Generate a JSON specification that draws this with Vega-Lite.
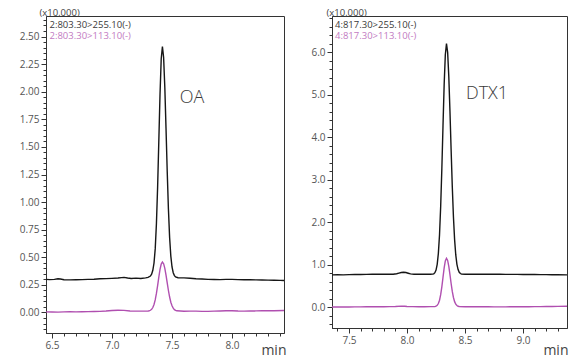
{
  "$schema": "https://vega.github.io/schema/vega-lite/v6.json",
  "padding": {"left": 18, "top": 7, "right": 0, "bottom": 0},
  "background": "white",
  "bounds": "flush",
  "spacing": 48,
  "config": {
    "font": "Open Sans",
    "view": {"stroke": "#333333", "strokeWidth": 1},
    "axis": {
      "domainColor": "#333333",
      "tickColor": "#333333",
      "labelColor": "#555555",
      "labelFontSize": 10,
      "labelPadding": 2,
      "labelOverlap": false,
      "labelFlush": false,
      "grid": false,
      "titleFontWeight": "normal",
      "titleColor": "#444444"
    }
  },
  "datasets": {
    "oa": [
      {"m":"255.10","t":6.45,"v":0.300},{"m":"255.10","t":6.48,"v":0.298},{"m":"255.10","t":6.52,"v":0.300},{"m":"255.10","t":6.55,"v":0.306},{"m":"255.10","t":6.57,"v":0.303},{"m":"255.10","t":6.60,"v":0.296},{"m":"255.10","t":6.65,"v":0.295},{"m":"255.10","t":6.70,"v":0.297},{"m":"255.10","t":6.75,"v":0.298},{"m":"255.10","t":6.80,"v":0.300},{"m":"255.10","t":6.85,"v":0.301},{"m":"255.10","t":6.90,"v":0.306},{"m":"255.10","t":6.95,"v":0.307},{"m":"255.10","t":7.00,"v":0.309},{"m":"255.10","t":7.05,"v":0.312},{"m":"255.10","t":7.08,"v":0.316},{"m":"255.10","t":7.10,"v":0.318},{"m":"255.10","t":7.13,"v":0.312},{"m":"255.10","t":7.16,"v":0.308},{"m":"255.10","t":7.20,"v":0.311},{"m":"255.10","t":7.24,"v":0.308},{"m":"255.10","t":7.28,"v":0.313},{"m":"255.10","t":7.30,"v":0.318},{"m":"255.10","t":7.32,"v":0.330},{"m":"255.10","t":7.33,"v":0.347},{"m":"255.10","t":7.34,"v":0.382},{"m":"255.10","t":7.35,"v":0.448},{"m":"255.10","t":7.36,"v":0.576},{"m":"255.10","t":7.37,"v":0.803},{"m":"255.10","t":7.38,"v":1.137},{"m":"255.10","t":7.39,"v":1.554},{"m":"255.10","t":7.40,"v":1.977},{"m":"255.10","t":7.41,"v":2.299},{"m":"255.10","t":7.42,"v":2.41},{"m":"255.10","t":7.43,"v":2.31},{"m":"255.10","t":7.44,"v":2.04},{"m":"255.10","t":7.45,"v":1.666},{"m":"255.10","t":7.46,"v":1.277},{"m":"255.10","t":7.47,"v":0.937},{"m":"255.10","t":7.48,"v":0.680},{"m":"255.10","t":7.49,"v":0.511},{"m":"255.10","t":7.50,"v":0.412},{"m":"255.10","t":7.51,"v":0.360},{"m":"255.10","t":7.52,"v":0.334},{"m":"255.10","t":7.53,"v":0.322},{"m":"255.10","t":7.55,"v":0.315},{"m":"255.10","t":7.60,"v":0.313},{"m":"255.10","t":7.65,"v":0.310},{"m":"255.10","t":7.70,"v":0.305},{"m":"255.10","t":7.75,"v":0.303},{"m":"255.10","t":7.80,"v":0.300},{"m":"255.10","t":7.85,"v":0.299},{"m":"255.10","t":7.90,"v":0.298},{"m":"255.10","t":7.95,"v":0.300},{"m":"255.10","t":8.00,"v":0.300},{"m":"255.10","t":8.05,"v":0.298},{"m":"255.10","t":8.10,"v":0.297},{"m":"255.10","t":8.15,"v":0.296},{"m":"255.10","t":8.20,"v":0.295},{"m":"255.10","t":8.25,"v":0.294},{"m":"255.10","t":8.30,"v":0.293},{"m":"255.10","t":8.35,"v":0.292},{"m":"255.10","t":8.40,"v":0.291},{"m":"255.10","t":8.433,"v":0.290},
      {"m":"113.10","t":6.45,"v":0.005},{"m":"113.10","t":6.50,"v":0.004},{"m":"113.10","t":6.55,"v":0.003},{"m":"113.10","t":6.60,"v":0.005},{"m":"113.10","t":6.65,"v":0.006},{"m":"113.10","t":6.70,"v":0.005},{"m":"113.10","t":6.75,"v":0.007},{"m":"113.10","t":6.80,"v":0.008},{"m":"113.10","t":6.85,"v":0.009},{"m":"113.10","t":6.90,"v":0.010},{"m":"113.10","t":6.95,"v":0.013},{"m":"113.10","t":7.00,"v":0.018},{"m":"113.10","t":7.05,"v":0.020},{"m":"113.10","t":7.10,"v":0.019},{"m":"113.10","t":7.15,"v":0.013},{"m":"113.10","t":7.20,"v":0.012},{"m":"113.10","t":7.25,"v":0.012},{"m":"113.10","t":7.30,"v":0.013},{"m":"113.10","t":7.31,"v":0.015},{"m":"113.10","t":7.32,"v":0.020},{"m":"113.10","t":7.33,"v":0.028},{"m":"113.10","t":7.34,"v":0.045},{"m":"113.10","t":7.35,"v":0.072},{"m":"113.10","t":7.36,"v":0.114},{"m":"113.10","t":7.37,"v":0.173},{"m":"113.10","t":7.38,"v":0.243},{"m":"113.10","t":7.39,"v":0.320},{"m":"113.10","t":7.40,"v":0.390},{"m":"113.10","t":7.41,"v":0.439},{"m":"113.10","t":7.42,"v":0.457},{"m":"113.10","t":7.43,"v":0.442},{"m":"113.10","t":7.44,"v":0.400},{"m":"113.10","t":7.45,"v":0.338},{"m":"113.10","t":7.46,"v":0.268},{"m":"113.10","t":7.47,"v":0.199},{"m":"113.10","t":7.48,"v":0.140},{"m":"113.10","t":7.49,"v":0.093},{"m":"113.10","t":7.50,"v":0.061},{"m":"113.10","t":7.51,"v":0.039},{"m":"113.10","t":7.52,"v":0.026},{"m":"113.10","t":7.53,"v":0.019},{"m":"113.10","t":7.54,"v":0.015},{"m":"113.10","t":7.60,"v":0.011},{"m":"113.10","t":7.65,"v":0.012},{"m":"113.10","t":7.70,"v":0.012},{"m":"113.10","t":7.75,"v":0.010},{"m":"113.10","t":7.80,"v":0.010},{"m":"113.10","t":7.85,"v":0.012},{"m":"113.10","t":7.90,"v":0.013},{"m":"113.10","t":7.95,"v":0.015},{"m":"113.10","t":8.00,"v":0.016},{"m":"113.10","t":8.05,"v":0.013},{"m":"113.10","t":8.10,"v":0.012},{"m":"113.10","t":8.15,"v":0.013},{"m":"113.10","t":8.20,"v":0.014},{"m":"113.10","t":8.25,"v":0.015},{"m":"113.10","t":8.30,"v":0.016},{"m":"113.10","t":8.35,"v":0.016},{"m":"113.10","t":8.433,"v":0.018}
    ],
    "dtx": [
      {"m":"255.10","t":7.353,"v":0.760},{"m":"255.10","t":7.40,"v":0.762},{"m":"255.10","t":7.45,"v":0.760},{"m":"255.10","t":7.50,"v":0.765},{"m":"255.10","t":7.55,"v":0.768},{"m":"255.10","t":7.60,"v":0.770},{"m":"255.10","t":7.65,"v":0.772},{"m":"255.10","t":7.70,"v":0.775},{"m":"255.10","t":7.75,"v":0.776},{"m":"255.10","t":7.80,"v":0.775},{"m":"255.10","t":7.85,"v":0.774},{"m":"255.10","t":7.88,"v":0.776},{"m":"255.10","t":7.91,"v":0.786},{"m":"255.10","t":7.93,"v":0.800},{"m":"255.10","t":7.95,"v":0.815},{"m":"255.10","t":7.97,"v":0.822},{"m":"255.10","t":7.99,"v":0.815},{"m":"255.10","t":8.01,"v":0.798},{"m":"255.10","t":8.03,"v":0.782},{"m":"255.10","t":8.06,"v":0.776},{"m":"255.10","t":8.10,"v":0.775},{"m":"255.10","t":8.15,"v":0.774},{"m":"255.10","t":8.20,"v":0.775},{"m":"255.10","t":8.22,"v":0.777},{"m":"255.10","t":8.23,"v":0.785},{"m":"255.10","t":8.24,"v":0.811},{"m":"255.10","t":8.25,"v":0.874},{"m":"255.10","t":8.26,"v":1.008},{"m":"255.10","t":8.27,"v":1.266},{"m":"255.10","t":8.28,"v":1.704},{"m":"255.10","t":8.29,"v":2.372},{"m":"255.10","t":8.30,"v":3.257},{"m":"255.10","t":8.31,"v":4.267},{"m":"255.10","t":8.32,"v":5.239},{"m":"255.10","t":8.33,"v":5.939},{"m":"255.10","t":8.34,"v":6.20},{"m":"255.10","t":8.35,"v":5.994},{"m":"255.10","t":8.36,"v":5.423},{"m":"255.10","t":8.37,"v":4.609},{"m":"255.10","t":8.38,"v":3.697},{"m":"255.10","t":8.39,"v":2.839},{"m":"255.10","t":8.40,"v":2.122},{"m":"255.10","t":8.41,"v":1.590},{"m":"255.10","t":8.42,"v":1.229},{"m":"255.10","t":8.43,"v":1.008},{"m":"255.10","t":8.44,"v":0.885},{"m":"255.10","t":8.45,"v":0.821},{"m":"255.10","t":8.46,"v":0.791},{"m":"255.10","t":8.47,"v":0.778},{"m":"255.10","t":8.50,"v":0.775},{"m":"255.10","t":8.55,"v":0.775},{"m":"255.10","t":8.60,"v":0.776},{"m":"255.10","t":8.65,"v":0.775},{"m":"255.10","t":8.70,"v":0.774},{"m":"255.10","t":8.75,"v":0.775},{"m":"255.10","t":8.80,"v":0.774},{"m":"255.10","t":8.85,"v":0.772},{"m":"255.10","t":8.90,"v":0.772},{"m":"255.10","t":8.95,"v":0.771},{"m":"255.10","t":9.00,"v":0.770},{"m":"255.10","t":9.05,"v":0.768},{"m":"255.10","t":9.10,"v":0.767},{"m":"255.10","t":9.15,"v":0.766},{"m":"255.10","t":9.20,"v":0.765},{"m":"255.10","t":9.25,"v":0.764},{"m":"255.10","t":9.30,"v":0.762},{"m":"255.10","t":9.379,"v":0.760},
      {"m":"113.10","t":7.353,"v":0.005},{"m":"113.10","t":7.40,"v":0.004},{"m":"113.10","t":7.45,"v":0.005},{"m":"113.10","t":7.50,"v":0.005},{"m":"113.10","t":7.55,"v":0.006},{"m":"113.10","t":7.60,"v":0.008},{"m":"113.10","t":7.65,"v":0.009},{"m":"113.10","t":7.70,"v":0.010},{"m":"113.10","t":7.75,"v":0.010},{"m":"113.10","t":7.80,"v":0.010},{"m":"113.10","t":7.85,"v":0.012},{"m":"113.10","t":7.90,"v":0.016},{"m":"113.10","t":7.95,"v":0.024},{"m":"113.10","t":7.98,"v":0.022},{"m":"113.10","t":8.00,"v":0.016},{"m":"113.10","t":8.05,"v":0.012},{"m":"113.10","t":8.10,"v":0.010},{"m":"113.10","t":8.15,"v":0.011},{"m":"113.10","t":8.20,"v":0.012},{"m":"113.10","t":8.23,"v":0.013},{"m":"113.10","t":8.24,"v":0.014},{"m":"113.10","t":8.25,"v":0.023},{"m":"113.10","t":8.26,"v":0.043},{"m":"113.10","t":8.27,"v":0.085},{"m":"113.10","t":8.28,"v":0.164},{"m":"113.10","t":8.29,"v":0.294},{"m":"113.10","t":8.30,"v":0.479},{"m":"113.10","t":8.31,"v":0.702},{"m":"113.10","t":8.32,"v":0.923},{"m":"113.10","t":8.33,"v":1.088},{"m":"113.10","t":8.34,"v":1.15},{"m":"113.10","t":8.35,"v":1.099},{"m":"113.10","t":8.36,"v":0.958},{"m":"113.10","t":8.37,"v":0.764},{"m":"113.10","t":8.38,"v":0.557},{"m":"113.10","t":8.39,"v":0.371},{"m":"113.10","t":8.40,"v":0.228},{"m":"113.10","t":8.41,"v":0.130},{"m":"113.10","t":8.42,"v":0.070},{"m":"113.10","t":8.43,"v":0.038},{"m":"113.10","t":8.44,"v":0.022},{"m":"113.10","t":8.45,"v":0.015},{"m":"113.10","t":8.50,"v":0.011},{"m":"113.10","t":8.55,"v":0.010},{"m":"113.10","t":8.60,"v":0.010},{"m":"113.10","t":8.65,"v":0.009},{"m":"113.10","t":8.70,"v":0.009},{"m":"113.10","t":8.75,"v":0.008},{"m":"113.10","t":8.80,"v":0.008},{"m":"113.10","t":8.85,"v":0.008},{"m":"113.10","t":8.90,"v":0.009},{"m":"113.10","t":8.95,"v":0.010},{"m":"113.10","t":9.00,"v":0.010},{"m":"113.10","t":9.05,"v":0.011},{"m":"113.10","t":9.10,"v":0.012},{"m":"113.10","t":9.15,"v":0.014},{"m":"113.10","t":9.20,"v":0.015},{"m":"113.10","t":9.25,"v":0.017},{"m":"113.10","t":9.30,"v":0.018},{"m":"113.10","t":9.379,"v":0.020}
    ]
  },
  "hconcat": [
    {
      "width": 238,
      "height": 317,
      "layer": [
        {
          "data": {"name": "oa"},
          "mark": {"type": "line", "strokeWidth": 1.4, "clip": true},
          "encoding": {
            "x": {
              "field": "t", "type": "quantitative",
              "scale": {"domain": [6.45, 8.433], "nice": false, "zero": false},
              "axis": {
                "values": [6.5,6.6,6.7,6.8,6.9,7,7.1,7.2,7.3,7.4,7.5,7.6,7.7,7.8,7.9,8,8.1,8.2,8.3,8.4],
                "tickCount": 500,
                "labelExpr": "abs(datum.value*2 - round(datum.value*2)) < 0.001 ? format(datum.value, '.1f') : ''",
                "labelOverlap": false,
                "labelFlush": false,
                "tickSize": {"condition": {"test": "abs(datum.value*2 - round(datum.value*2)) < 0.001", "value": 5}, "value": 3},
                "title": "min",
                "titleFontSize": 14,
                "titleAlign": "right",
                "titleBaseline": "alphabetic",
                "titleX": 240,
                "titleY": 21
              }
            },
            "y": {
              "field": "v", "type": "quantitative",
              "scale": {"domain": [-0.186, 2.686], "nice": false, "zero": false},
              "axis": {
                "values": [-0.15,-0.1,-0.05,0,0.05,0.1,0.15,0.2,0.25,0.3,0.35,0.4,0.45,0.5,0.55,0.6,0.65,0.7,0.75,0.8,0.85,0.9,0.95,1,1.05,1.1,1.15,1.2,1.25,1.3,1.35,1.4,1.45,1.5,1.55,1.6,1.65,1.7,1.75,1.8,1.85,1.9,1.95,2,2.05,2.1,2.15,2.2,2.25,2.3,2.35,2.4,2.45,2.5,2.55,2.6,2.65],
                "tickCount": 500,
                "labelExpr": "abs(datum.value*4 - round(datum.value*4)) < 0.001 ? format(datum.value, '.2f') : ''",
                "labelOverlap": false,
                "labelFlush": false,
                "tickSize": {"condition": {"test": "abs(datum.value*4 - round(datum.value*4)) < 0.001", "value": 5}, "value": 3},
                "title": "(x10,000)",
                "titleFontSize": 9.5,
                "titleAngle": 0,
                "titleAlign": "left",
                "titleBaseline": "alphabetic",
                "titleX": -7,
                "titleY": -0.5
              }
            },
            "color": {
              "field": "m", "type": "nominal",
              "scale": {"domain": ["255.10", "113.10"], "range": ["#161616", "#b04fb0"]},
              "legend": null
            }
          }
        },
        {
          "data": {"values": [{}]},
          "mark": {"type": "text", "align": "left", "baseline": "middle", "dx": 3.5, "dy": 8.5, "fontSize": 9.5, "color": "#3a3a3a"},
          "encoding": {
            "x": {"datum": 6.45, "type": "quantitative"},
            "y": {"datum": 2.686, "type": "quantitative"},
            "text": {"value": "2:803.30>255.10(-)"}
          }
        },
        {
          "data": {"values": [{}]},
          "mark": {"type": "text", "align": "left", "baseline": "middle", "dx": 3.5, "dy": 20, "fontSize": 9.5, "color": "#c27ac2"},
          "encoding": {
            "x": {"datum": 6.45, "type": "quantitative"},
            "y": {"datum": 2.686, "type": "quantitative"},
            "text": {"value": "2:803.30>113.10(-)"}
          }
        },
        {
          "data": {"values": [{}]},
          "mark": {"type": "text", "align": "left", "baseline": "alphabetic", "fontSize": 18, "fontWeight": 300, "color": "#3a3a3a"},
          "encoding": {
            "x": {"datum": 7.565, "type": "quantitative"},
            "y": {"datum": 1.9, "type": "quantitative"},
            "text": {"value": "OA"}
          }
        }
      ]
    },
    {
      "width": 235,
      "height": 312,
      "layer": [
        {
          "data": {"name": "dtx"},
          "mark": {"type": "line", "strokeWidth": 1.4, "clip": true},
          "encoding": {
            "x": {
              "field": "t", "type": "quantitative",
              "scale": {"domain": [7.353, 9.379], "nice": false, "zero": false},
              "axis": {
                "values": [7.4,7.5,7.6,7.7,7.8,7.9,8,8.1,8.2,8.3,8.4,8.5,8.6,8.7,8.8,8.9,9,9.1,9.2,9.3],
                "tickCount": 500,
                "labelExpr": "abs(datum.value*2 - round(datum.value*2)) < 0.001 ? format(datum.value, '.1f') : ''",
                "labelOverlap": false,
                "labelFlush": false,
                "tickSize": {"condition": {"test": "abs(datum.value*2 - round(datum.value*2)) < 0.001", "value": 5}, "value": 3},
                "title": "min",
                "titleFontSize": 14,
                "titleAlign": "right",
                "titleBaseline": "alphabetic",
                "titleX": 236,
                "titleY": 26
              }
            },
            "y": {
              "field": "v", "type": "quantitative",
              "scale": {"domain": [-0.49, 6.85], "nice": false, "zero": false},
              "axis": {
                "values": [-0.4,-0.2,0,0.2,0.4,0.6,0.8,1,1.2,1.4,1.6,1.8,2,2.2,2.4,2.6,2.8,3,3.2,3.4,3.6,3.8,4,4.2,4.4,4.6,4.8,5,5.2,5.4,5.6,5.8,6,6.2,6.4,6.6,6.8],
                "tickCount": 500,
                "labelExpr": "abs(datum.value - round(datum.value)) < 0.001 ? format(datum.value, '.1f') : ''",
                "labelOverlap": false,
                "labelFlush": false,
                "tickSize": {"condition": {"test": "abs(datum.value - round(datum.value)) < 0.001", "value": 5}, "value": 3},
                "title": "(x10,000)",
                "titleFontSize": 9.5,
                "titleAngle": 0,
                "titleAlign": "left",
                "titleBaseline": "alphabetic",
                "titleX": -6,
                "titleY": -0.5
              }
            },
            "color": {
              "field": "m", "type": "nominal",
              "scale": {"domain": ["255.10", "113.10"], "range": ["#161616", "#b04fb0"]},
              "legend": null
            }
          }
        },
        {
          "data": {"values": [{}]},
          "mark": {"type": "text", "align": "left", "baseline": "middle", "dx": 3, "dy": 8.5, "fontSize": 9.5, "color": "#3a3a3a"},
          "encoding": {
            "x": {"datum": 7.353, "type": "quantitative"},
            "y": {"datum": 6.85, "type": "quantitative"},
            "text": {"value": "4:817.30>255.10(-)"}
          }
        },
        {
          "data": {"values": [{}]},
          "mark": {"type": "text", "align": "left", "baseline": "middle", "dx": 3, "dy": 20, "fontSize": 9.5, "color": "#c27ac2"},
          "encoding": {
            "x": {"datum": 7.353, "type": "quantitative"},
            "y": {"datum": 6.85, "type": "quantitative"},
            "text": {"value": "4:817.30>113.10(-)"}
          }
        },
        {
          "data": {"values": [{}]},
          "mark": {"type": "text", "align": "left", "baseline": "alphabetic", "fontSize": 18, "fontWeight": 300, "color": "#3a3a3a"},
          "encoding": {
            "x": {"datum": 8.508, "type": "quantitative"},
            "y": {"datum": 4.9, "type": "quantitative"},
            "text": {"value": "DTX1"}
          }
        }
      ]
    }
  ]
}
